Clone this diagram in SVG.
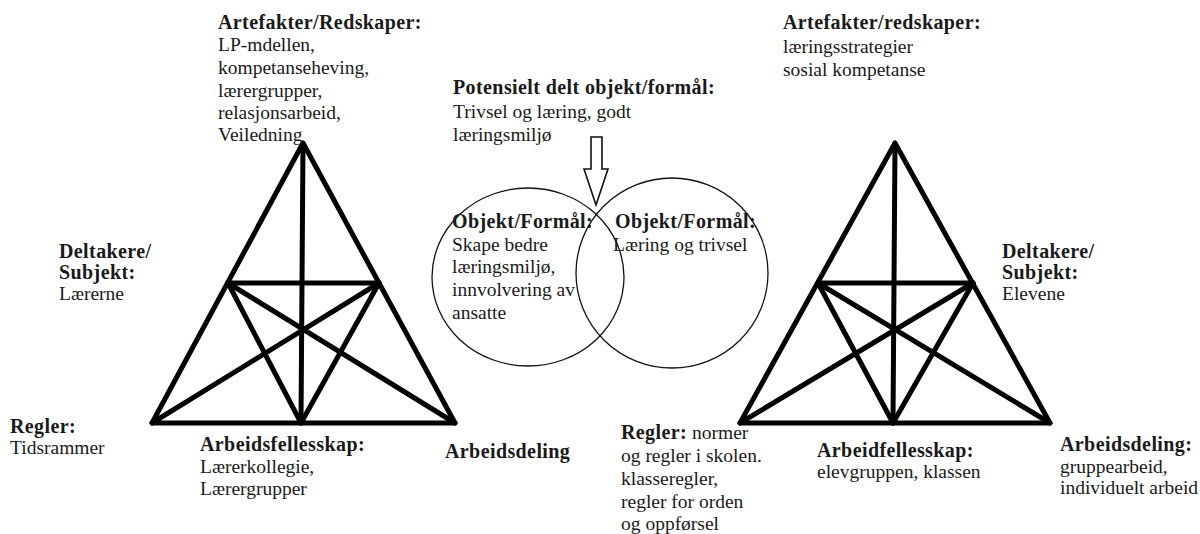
<svg xmlns="http://www.w3.org/2000/svg" width="1200" height="534" viewBox="0 0 1200 534">
<style>
text{font-family:"Liberation Serif","Times New Roman",serif;font-size:19.5px;fill:#1a1a1a}
.b{font-weight:bold;font-size:20px;letter-spacing:0.4px}
.tri line,.tri polygon{stroke:#000;stroke-width:5;stroke-linecap:round;stroke-linejoin:round;fill:none}
.circ{fill:none;stroke:#111;stroke-width:1.3}
.arrow{fill:#fff;stroke:#111;stroke-width:1.6}
</style>
<rect width="1200" height="534" fill="#fff"/>
<g id="connectors">
<g id="triangle-left" class="tri">
<polygon points="303,143 152,423 455,423"/>
<line x1="228" y1="283" x2="379" y2="283"/>
<line x1="303" y1="143" x2="301" y2="423"/>
<line x1="228" y1="283" x2="301" y2="423"/>
<line x1="379" y1="283" x2="301" y2="423"/>
<line x1="152" y1="423" x2="379" y2="283"/>
<line x1="455" y1="423" x2="228" y2="283"/>
</g>
<g id="triangle-right" class="tri">
<polygon points="895,143 740,423 1050,423"/>
<line x1="818" y1="283" x2="973" y2="283"/>
<line x1="895" y1="143" x2="893" y2="423"/>
<line x1="818" y1="283" x2="893" y2="423"/>
<line x1="973" y1="283" x2="893" y2="423"/>
<line x1="740" y1="423" x2="973" y2="283"/>
<line x1="1050" y1="423" x2="818" y2="283"/>
</g>
<polygon id="shared-arrow" class="arrow" points="591,137 602,137 602,169 608,169 596,205 584,169 591,169"/>
</g>
<g id="object-left">
<ellipse class="circ" cx="528" cy="277" rx="96" ry="89"/>
<text x="452" y="228" class="b">Objekt/Formål:</text>
<text x="452" y="251">Skape bedre</text>
<text x="452" y="273">læringsmiljø,</text>
<text x="452" y="296">innvolvering av</text>
<text x="452" y="319">ansatte</text>
</g>
<g id="object-right">
<ellipse class="circ" cx="672" cy="273" rx="96" ry="95"/>
<text x="615" y="228" class="b">Objekt/Formål:</text>
<text x="613" y="251">Læring og trivsel</text>
</g>
<g id="shared-object">
<text x="453" y="94" class="b">Potensielt delt objekt/formål:</text>
<text x="453" y="118">Trivsel og læring, godt</text>
<text x="453" y="141">læringsmiljø</text>
</g>
<g id="artefakter-left">
<text x="218" y="29" class="b">Artefakter/Redskaper:</text>
<text x="218" y="51">LP-mdellen,</text>
<text x="218" y="74">kompetanseheving,</text>
<text x="218" y="97">lærergrupper,</text>
<text x="218" y="119">relasjonsarbeid,</text>
<text x="218" y="141">Veiledning</text>
</g>
<g id="subjekt-left">
<text x="59" y="258" class="b">Deltakere/</text>
<text x="59" y="279" class="b">Subjekt:</text>
<text x="59" y="300">Lærerne</text>
</g>
<g id="regler-left">
<text x="10" y="433" class="b">Regler:</text>
<text x="10" y="454">Tidsrammer</text>
</g>
<g id="fellesskap-left">
<text x="200" y="451" class="b">Arbeidsfellesskap:</text>
<text x="200" y="473">Lærerkollegie,</text>
<text x="200" y="495">Lærergrupper</text>
</g>
<g id="arbeidsdeling-left">
<text x="445" y="458" class="b">Arbeidsdeling</text>
</g>
<g id="artefakter-right">
<text x="783" y="29" class="b">Artefakter/redskaper:</text>
<text x="783" y="53">læringsstrategier</text>
<text x="783" y="76">sosial kompetanse</text>
</g>
<g id="subjekt-right">
<text x="1002" y="258" class="b">Deltakere/</text>
<text x="1002" y="279" class="b">Subjekt:</text>
<text x="1002" y="300">Elevene</text>
</g>
<g id="regler-right">
<text x="621" y="439"><tspan class="b">Regler:</tspan> normer</text>
<text x="621" y="462">og regler i skolen.</text>
<text x="621" y="485">klasseregler,</text>
<text x="621" y="508">regler for orden</text>
<text x="621" y="530">og oppførsel</text>
</g>
<g id="fellesskap-right">
<text x="817" y="457" class="b">Arbeidfellesskap:</text>
<text x="817" y="478">elevgruppen, klassen</text>
</g>
<g id="arbeidsdeling-right">
<text x="1060" y="451" class="b">Arbeidsdeling:</text>
<text x="1060" y="473">gruppearbeid,</text>
<text x="1060" y="494">individuelt arbeid</text>
</g>
</svg>
